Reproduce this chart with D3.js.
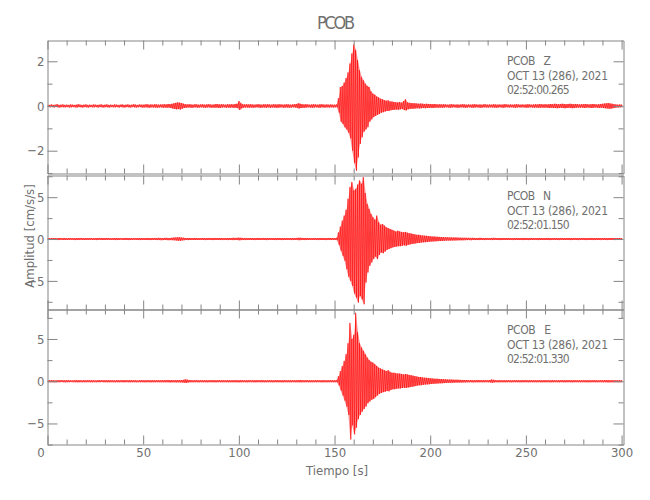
<!DOCTYPE html>
<html><head><meta charset="utf-8">
<script src="https://cdn.jsdelivr.net/npm/d3@7"></script>
<style>
body{margin:0;background:#fff;}
svg text{font-family:"Liberation Sans Narrow","DejaVu Sans Condensed","Liberation Sans",sans-serif;fill:#707070;}
</style></head>
<body><svg id="c" width="650" height="500"></svg>
<script>
// ---- data: per-second peak (max) and trough (min) of each trace, t = 0..300 s ----
const seconds = d3.range(0, 301);
const xTicks = [0,50,100,150,200,250,300];
const title = "PCOB";
const channels = ["Z","N","E"];
const dateLabel = "OCT 13 (286), 2021";
const startTimes = ["02:52:00.265","02:52:01.150","02:52:01.330"];
const zTicks = [-2,0,2];
const neTicks = [-5,0,5];

const zMax = [
.06,.05,.07,.05,.06,.08,.05,.06,.07,.05, .06,.05,.07,.06,.05,.06,.08,.06,.05,.06,
.07,.05,.06,.05,.07,.06,.05,.06,.07,.05, .06,.07,.05,.06,.05,.07,.06,.05,.06,.07,
.05,.06,.07,.05,.06,.08,.06,.05,.07,.06, .06,.07,.08,.06,.07,.06,.08,.07,.06,.07,
.07,.08,.07,.09,.08,.10,.12,.14,.16,.15, .13,.10,.08,.07,.08,.07,.06,.08,.07,.06,
.07,.08,.06,.07,.08,.07,.06,.07,.09,.08, .07,.08,.07,.06,.08,.07,.08,.07,.09,.10,
.22,.12,.08,.07,.08,.07,.08,.07,.06,.07, .08,.07,.06,.08,.07,.08,.07,.06,.08,.07,
.07,.08,.07,.06,.07,.08,.07,.06,.07,.08, .09,.12,.10,.08,.07,.08,.07,.06,.07,.08,
.07,.06,.07,.08,.07,.06,.07,.06,.07,.06, .06,.07,.35,.85,.90,1.05,1.25,1.50,1.90,2.35,
2.75,2.50,2.05,1.60,1.30,1.15,1.00,.90,.85,.65, .55,.50,.42,.38,.32,.30,.26,.24,.25,.20,
.20,.18,.17,.16,.18,.15,.22,.30,.16,.14, .13,.12,.12,.11,.10,.11,.10,.09,.10,.09,
.09,.08,.09,.08,.07,.08,.07,.08,.07,.06, .07,.08,.07,.06,.07,.06,.07,.08,.07,.06,
.07,.06,.07,.08,.07,.06,.07,.06,.08,.07, .06,.07,.06,.08,.07,.06,.07,.06,.07,.08,
.07,.06,.07,.06,.07,.08,.07,.06,.07,.06, .07,.08,.07,.06,.07,.08,.07,.09,.08,.07,
.08,.07,.08,.09,.08,.10,.09,.08,.09,.10, .09,.08,.09,.10,.09,.08,.09,.08,.07,.08,
.08,.09,.08,.07,.08,.09,.08,.07,.08,.09, .10,.11,.12,.13,.11,.10,.08,.07,.06,.07,
.06];
const zMin = [
-.05,-.06,-.05,-.07,-.05,-.06,-.07,-.05,-.06,-.06, -.05,-.07,-.06,-.05,-.06,-.07,-.05,-.06,-.07,-.05,
-.06,-.07,-.05,-.06,-.06,-.05,-.07,-.05,-.06,-.07, -.05,-.06,-.07,-.05,-.06,-.06,-.05,-.07,-.05,-.06,
-.07,-.05,-.06,-.07,-.05,-.06,-.07,-.06,-.05,-.07, -.07,-.06,-.07,-.08,-.06,-.07,-.07,-.08,-.07,-.06,
-.08,-.07,-.08,-.07,-.09,-.11,-.13,-.15,-.14,-.16, -.12,-.09,-.08,-.07,-.07,-.08,-.07,-.06,-.08,-.07,
-.06,-.07,-.08,-.07,-.06,-.08,-.07,-.08,-.07,-.09, -.08,-.07,-.06,-.08,-.07,-.08,-.07,-.08,-.08,-.09,
-.18,-.11,-.08,-.07,-.07,-.08,-.07,-.08,-.07,-.06, -.07,-.08,-.07,-.07,-.08,-.06,-.08,-.07,-.07,-.08,
-.08,-.07,-.06,-.08,-.07,-.07,-.08,-.07,-.06,-.07, -.08,-.11,-.09,-.08,-.08,-.07,-.06,-.07,-.08,-.07,
-.06,-.07,-.08,-.06,-.07,-.07,-.06,-.07,-.06,-.07, -.06,-.06,-.30,-.70,-.80,-.95,-1.05,-1.20,-1.45,-2.00,
-2.55,-2.90,-2.30,-1.70,-1.40,-1.15,-1.05,-.95,-.70,-.60, -.50,-.45,-.40,-.36,-.30,-.28,-.25,-.22,-.22,-.19,
-.18,-.17,-.16,-.17,-.15,-.14,-.18,-.20,-.15,-.13, -.12,-.12,-.11,-.10,-.11,-.10,-.09,-.10,-.09,-.09,
-.08,-.09,-.08,-.07,-.08,-.07,-.08,-.07,-.06,-.07, -.08,-.07,-.06,-.07,-.08,-.07,-.06,-.07,-.08,-.07,
-.06,-.07,-.08,-.07,-.06,-.07,-.08,-.07,-.06,-.07, -.07,-.06,-.07,-.07,-.08,-.07,-.06,-.07,-.08,-.06,
-.06,-.07,-.06,-.07,-.08,-.07,-.06,-.07,-.06,-.07, -.08,-.07,-.06,-.07,-.08,-.07,-.08,-.08,-.07,-.08,
-.07,-.08,-.09,-.08,-.09,-.09,-.10,-.09,-.08,-.09, -.10,-.09,-.08,-.09,-.10,-.09,-.08,-.07,-.08,-.07,
-.09,-.08,-.07,-.08,-.09,-.08,-.07,-.08,-.09,-.08, -.09,-.10,-.11,-.12,-.12,-.10,-.09,-.07,-.07,-.06,
-.06];
const nMax = [
.12,.10,.13,.11,.12,.10,.13,.12,.11,.12, .10,.12,.13,.11,.10,.12,.11,.13,.12,.10,
.12,.11,.13,.12,.10,.11,.12,.13,.11,.12, .11,.13,.12,.10,.12,.11,.13,.12,.11,.10,
.12,.13,.11,.12,.10,.12,.11,.13,.12,.11, .12,.11,.13,.12,.11,.12,.13,.12,.14,.13,
.12,.13,.14,.12,.13,.15,.17,.19,.22,.20, .18,.15,.13,.12,.13,.12,.11,.13,.12,.11,
.12,.13,.11,.12,.13,.12,.11,.12,.13,.12, .13,.12,.11,.13,.12,.13,.12,.14,.13,.14,
.16,.14,.13,.12,.13,.12,.13,.12,.11,.12, .13,.12,.11,.13,.12,.13,.12,.11,.13,.12,
.12,.13,.12,.11,.12,.13,.12,.11,.12,.13, .13,.15,.14,.13,.12,.13,.12,.11,.12,.13,
.12,.11,.12,.13,.12,.11,.12,.13,.12,.13, .12,.15,.80,1.50,2.20,2.80,3.50,4.80,6.20,6.80,
5.80,6.00,6.50,7.00,6.60,7.40,5.50,4.20,3.60,3.00, 2.60,2.30,2.80,2.00,1.70,1.80,1.60,1.40,1.30,1.20,
1.10,1.00,.90,1.00,.90,.85,.80,.85,.75,.70, .65,.60,.55,.50,.50,.45,.42,.40,.38,.35,
.33,.30,.30,.28,.26,.25,.24,.22,.22,.20, .20,.19,.18,.18,.17,.16,.16,.15,.15,.14,
.14,.13,.14,.13,.12,.13,.14,.13,.12,.13, .13,.12,.13,.14,.13,.12,.13,.12,.13,.12,
.12,.13,.12,.11,.12,.13,.12,.11,.12,.13, .12,.11,.12,.13,.12,.11,.12,.13,.12,.11,
.12,.13,.12,.11,.12,.13,.12,.11,.13,.12, .11,.12,.13,.12,.11,.12,.13,.12,.11,.12,
.13,.12,.11,.12,.13,.12,.11,.12,.13,.12, .12,.13,.12,.11,.12,.13,.12,.11,.12,.11,
.12];
const nMin = [
-.11,-.12,-.10,-.12,-.11,-.13,-.11,-.10,-.12,-.11, -.12,-.11,-.10,-.12,-.13,-.11,-.12,-.10,-.11,-.12,
-.11,-.12,-.10,-.11,-.12,-.13,-.11,-.10,-.12,-.11, -.12,-.10,-.11,-.12,-.11,-.13,-.12,-.11,-.10,-.12,
-.11,-.12,-.13,-.11,-.12,-.10,-.12,-.11,-.13,-.12, -.11,-.12,-.12,-.13,-.12,-.11,-.12,-.13,-.12,-.14,
-.13,-.12,-.13,-.14,-.13,-.14,-.16,-.18,-.20,-.21, -.17,-.14,-.12,-.13,-.12,-.11,-.12,-.12,-.11,-.12,
-.11,-.12,-.13,-.12,-.11,-.12,-.13,-.12,-.11,-.12, -.12,-.13,-.12,-.12,-.13,-.12,-.13,-.13,-.12,-.13,
-.15,-.13,-.12,-.13,-.12,-.12,-.11,-.12,-.13,-.12, -.12,-.11,-.12,-.12,-.13,-.12,-.11,-.12,-.12,-.13,
-.11,-.12,-.13,-.12,-.11,-.12,-.12,-.13,-.12,-.11, -.12,-.14,-.13,-.12,-.13,-.12,-.11,-.12,-.12,-.11,
-.12,-.13,-.11,-.12,-.12,-.13,-.11,-.12,-.12,-.11, -.12,-.14,-.70,-1.40,-2.00,-2.60,-3.60,-4.50,-5.00,-5.60,
-6.50,-7.00,-7.60,-6.80,-7.20,-7.80,-5.20,-4.00,-3.20,-2.80, -2.40,-2.10,-2.40,-1.90,-1.60,-1.70,-1.50,-1.30,-1.20,-1.10,
-1.00,-.95,-.90,-.85,-.85,-.80,-.75,-.80,-.70,-.65, -.60,-.55,-.52,-.48,-.46,-.42,-.40,-.38,-.36,-.33,
-.31,-.29,-.28,-.27,-.25,-.24,-.23,-.21,-.20,-.19, -.19,-.18,-.17,-.17,-.16,-.15,-.15,-.14,-.14,-.13,
-.13,-.14,-.12,-.13,-.12,-.13,-.12,-.12,-.13,-.12, -.11,-.12,-.13,-.12,-.11,-.12,-.13,-.12,-.11,-.12,
-.12,-.11,-.12,-.13,-.12,-.11,-.12,-.12,-.13,-.11, -.12,-.13,-.11,-.12,-.12,-.11,-.13,-.12,-.11,-.12,
-.11,-.12,-.13,-.12,-.11,-.12,-.12,-.13,-.11,-.12, -.12,-.11,-.12,-.13,-.12,-.11,-.12,-.13,-.12,-.11,
-.12,-.13,-.12,-.11,-.12,-.13,-.11,-.12,-.12,-.13, -.11,-.12,-.13,-.12,-.11,-.12,-.13,-.12,-.11,-.12,
-.11];
const eMax = [
.12,.11,.13,.12,.10,.12,.11,.13,.12,.11, .12,.13,.11,.10,.12,.13,.11,.12,.10,.12,
.11,.12,.13,.11,.12,.10,.12,.13,.11,.12, .12,.11,.13,.12,.11,.10,.12,.13,.12,.11,
.13,.12,.11,.12,.13,.11,.12,.10,.12,.13, .12,.11,.13,.12,.12,.13,.11,.12,.13,.12,
.13,.12,.13,.14,.12,.13,.12,.13,.14,.13, .14,.16,.22,.18,.14,.12,.11,.12,.13,.12,
.12,.11,.13,.12,.11,.12,.13,.12,.11,.12, .13,.12,.12,.11,.13,.12,.11,.12,.13,.12,
.12,.13,.12,.11,.12,.13,.12,.11,.12,.13, .12,.11,.13,.12,.11,.12,.13,.12,.11,.12,
.13,.12,.11,.12,.13,.12,.11,.13,.12,.11, .12,.13,.14,.12,.11,.12,.13,.12,.11,.12,
.12,.13,.11,.12,.13,.12,.11,.12,.13,.12, .12,.14,.60,1.20,1.80,2.40,3.20,4.50,6.90,5.00,
5.50,8.10,5.80,4.50,4.00,3.60,3.20,2.80,2.50,2.30, 2.20,2.00,1.80,1.60,1.50,1.40,1.30,1.20,1.30,1.10,
1.00,1.00,.95,.90,.90,.85,.80,.85,.80,.75, .70,.65,.60,.55,.50,.50,.45,.42,.40,.38,
.35,.33,.30,.30,.28,.26,.25,.24,.22,.20, .20,.19,.18,.17,.17,.16,.15,.15,.14,.14,
.13,.14,.13,.12,.13,.14,.13,.12,.13,.12, .13,.15,.20,.16,.13,.12,.13,.12,.11,.12,
.12,.13,.12,.11,.12,.13,.12,.11,.12,.13, .12,.11,.12,.13,.12,.11,.13,.12,.11,.12,
.13,.12,.11,.12,.13,.12,.11,.12,.13,.12, .12,.11,.13,.12,.11,.12,.13,.12,.11,.12,
.12,.13,.12,.11,.12,.13,.12,.11,.12,.13, .12,.13,.14,.13,.12,.13,.12,.11,.12,.11,
.12];
const eMin = [
-.11,-.12,-.11,-.13,-.12,-.11,-.12,-.10,-.12,-.13, -.11,-.12,-.10,-.12,-.11,-.12,-.13,-.11,-.12,-.11,
-.12,-.11,-.12,-.13,-.11,-.12,-.11,-.12,-.10,-.12, -.11,-.13,-.12,-.11,-.12,-.13,-.11,-.12,-.11,-.12,
-.12,-.11,-.13,-.12,-.11,-.12,-.13,-.11,-.12,-.11, -.13,-.12,-.11,-.12,-.13,-.12,-.12,-.11,-.12,-.13,
-.12,-.13,-.12,-.13,-.14,-.12,-.13,-.14,-.13,-.14, -.15,-.17,-.20,-.16,-.13,-.12,-.12,-.11,-.12,-.13,
-.11,-.12,-.12,-.13,-.12,-.11,-.12,-.13,-.12,-.11, -.12,-.13,-.11,-.12,-.12,-.13,-.12,-.11,-.12,-.13,
-.13,-.12,-.11,-.12,-.13,-.12,-.11,-.12,-.13,-.12, -.11,-.12,-.12,-.13,-.12,-.11,-.12,-.13,-.12,-.11,
-.12,-.11,-.13,-.12,-.11,-.12,-.13,-.12,-.11,-.12, -.13,-.12,-.13,-.12,-.12,-.11,-.12,-.13,-.12,-.11,
-.12,-.11,-.12,-.13,-.12,-.11,-.12,-.12,-.11,-.12, -.12,-.13,-.50,-1.10,-1.70,-2.30,-3.00,-4.00,-6.90,-5.20,
-6.30,-5.50,-4.50,-4.00,-3.60,-3.30,-3.00,-2.60,-2.40,-2.20, -2.10,-1.90,-1.70,-1.50,-1.40,-1.30,-1.25,-1.15,-1.20,-1.05,
-.95,-.95,-.90,-.85,-.85,-.80,-.78,-.80,-.75,-.70, -.66,-.62,-.57,-.52,-.48,-.47,-.43,-.40,-.38,-.36,
-.33,-.31,-.29,-.28,-.26,-.25,-.24,-.22,-.21,-.19, -.19,-.18,-.17,-.16,-.16,-.15,-.15,-.14,-.14,-.13,
-.13,-.12,-.14,-.13,-.12,-.13,-.12,-.13,-.12,-.12, -.12,-.14,-.18,-.15,-.12,-.13,-.12,-.11,-.12,-.13,
-.11,-.12,-.13,-.12,-.11,-.12,-.12,-.13,-.12,-.11, -.12,-.13,-.11,-.12,-.12,-.13,-.11,-.12,-.13,-.12,
-.12,-.11,-.12,-.13,-.12,-.11,-.12,-.13,-.11,-.12, -.13,-.12,-.11,-.12,-.13,-.12,-.11,-.12,-.12,-.13,
-.11,-.12,-.13,-.12,-.11,-.12,-.13,-.12,-.11,-.12, -.13,-.12,-.13,-.14,-.12,-.13,-.12,-.11,-.12,-.11,
-.12];

// ---- layout ----
const svg = d3.select("#c");
const AX = "#858585";
const x = d3.scaleLinear().domain([0, 301]).range([47.5, 623.5]);
const panels = [
  {ch:0, max:zMax, min:zMin, dom:[-3.02, 2.93], top:40.5,  bot:173.5, major:zTicks,  minor:[-3,-1,1]},
  {ch:1, max:nMax, min:nMin, dom:[-8.42, 7.59], top:175.5, bot:309.5, major:neTicks, minor:[-7.5,-2.5,2.5,7.5]},
  {ch:2, max:eMax, min:eMin, dom:[-7.49, 8.49], top:309.5, bot:444.5, major:neTicks, minor:[-7.5,-2.5,2.5,7.5]}
];
const xMinor = d3.range(0, 301, 10).filter(v => v % 50 !== 0);

function styleAxis(g){
  g.selectAll("path.domain").attr("stroke", AX).attr("stroke-width", 1);
  g.selectAll(".tick line").attr("stroke", AX).attr("stroke-width", 1);
  g.selectAll("text").attr("font-size", 13).attr("fill", "#707070")
    .style("font-family", '"Liberation Sans Narrow","DejaVu Sans Condensed",sans-serif');
}

panels.forEach((p, i) => {
  const y = d3.scaleLinear().domain(p.dom).range([p.bot, p.top]);
  const clipId = "clip" + i;
  svg.append("clipPath").attr("id", clipId).append("rect")
    .attr("x", x(0)).attr("y", p.top - 6).attr("width", x(301) - x(0)).attr("height", p.bot - p.top + 12);

  // envelope fill between trough and peak
  const area = d3.area().x((d, k) => x(seconds[k] + 0.25))
    .y0((d, k) => y(p.min[k])).y1((d, k) => y(p.max[k]));
  svg.append("path").attr("d", area(seconds)).attr("fill", "#ff0000").attr("fill-opacity", 0.45)
    .attr("clip-path", `url(#${clipId})`);

  // trace: alternating peak / trough samples
  const pts = [];
  seconds.forEach((t, k) => { pts.push([t, p.max[k]]); pts.push([t + 0.5, p.min[k]]); });
  const line = d3.line().x(d => x(d[0])).y(d => y(d[1]));
  svg.append("path").attr("d", line(pts)).attr("fill", "none")
    .attr("stroke", "#ff0000").attr("stroke-width", 0.6)
    .attr("clip-path", `url(#${clipId})`);

  // left axis (labels) + minor
  const gl = svg.append("g").attr("transform", `translate(${x(0)},0)`)
    .call(d3.axisLeft(y).tickValues(p.major).tickSize(-10).tickSizeOuter(0).tickPadding(3).tickFormat(d3.format("d")));
  styleAxis(gl);
  const glm = svg.append("g").attr("transform", `translate(${x(0)},0)`)
    .call(d3.axisLeft(y).tickValues(p.minor).tickSize(-5).tickSizeOuter(0).tickFormat(""));
  styleAxis(glm); glm.select("path.domain").remove();
  // right axis
  const gr = svg.append("g").attr("transform", `translate(${x(301)},0)`)
    .call(d3.axisRight(y).tickValues(p.major).tickSize(-10).tickSizeOuter(0).tickFormat(""));
  styleAxis(gr);
  const grm = svg.append("g").attr("transform", `translate(${x(301)},0)`)
    .call(d3.axisRight(y).tickValues(p.minor).tickSize(-5).tickSizeOuter(0).tickFormat(""));
  styleAxis(grm); grm.select("path.domain").remove();
  // top axis
  const gt = svg.append("g").attr("transform", `translate(0,${p.top})`)
    .call(d3.axisTop(x).tickValues(xTicks).tickSize(-9).tickSizeOuter(0).tickFormat(""));
  styleAxis(gt);
  const gtm = svg.append("g").attr("transform", `translate(0,${p.top})`)
    .call(d3.axisTop(x).tickValues(xMinor).tickSize(-5).tickSizeOuter(0).tickFormat(""));
  styleAxis(gtm); gtm.select("path.domain").remove();
  // bottom axis
  const isLast = i === panels.length - 1;
  const gb = svg.append("g").attr("transform", `translate(0,${p.bot})`)
    .call(d3.axisBottom(x).tickValues(xTicks).tickSize(-9).tickSizeOuter(0).tickPadding(3)
      .tickFormat(isLast ? d3.format("d") : ""));
  styleAxis(gb);
  if (isLast) gb.selectAll(".tick text").filter(d => d === 0).attr("dx", -7);
  const gbm = svg.append("g").attr("transform", `translate(0,${p.bot})`)
    .call(d3.axisBottom(x).tickValues(xMinor).tickSize(-5).tickSizeOuter(0).tickFormat(""));
  styleAxis(gbm); gbm.select("path.domain").remove();

  // annotation
  const ann = svg.append("g").attr("transform", `translate(507,${p.top + 24.5})`)
    .attr("font-size", 12);
  ann.append("text").attr("x", 0).attr("y", 0).attr("textLength", 44).text("PCOB   " + channels[p.ch]).style("white-space", "pre");
  ann.append("text").attr("x", 0).attr("y", 14.5).attr("textLength", 101).text(dateLabel);
  ann.append("text").attr("x", 0).attr("y", 29).attr("textLength", 62.5).text(startTimes[p.ch]);
});

// titles
svg.append("text").attr("x", 336).attr("y", 29).attr("text-anchor", "middle")
  .attr("font-size", 18).attr("textLength", 38).text(title);
svg.append("text").attr("x", 337).attr("y", 475).attr("text-anchor", "middle")
  .attr("font-size", 13).text("Tiempo [s]");
svg.append("text").attr("transform", "translate(34,236) rotate(-90)").attr("text-anchor", "middle")
  .attr("font-size", 13).text("Amplitud [cm/s/s]");
</script></body></html>
